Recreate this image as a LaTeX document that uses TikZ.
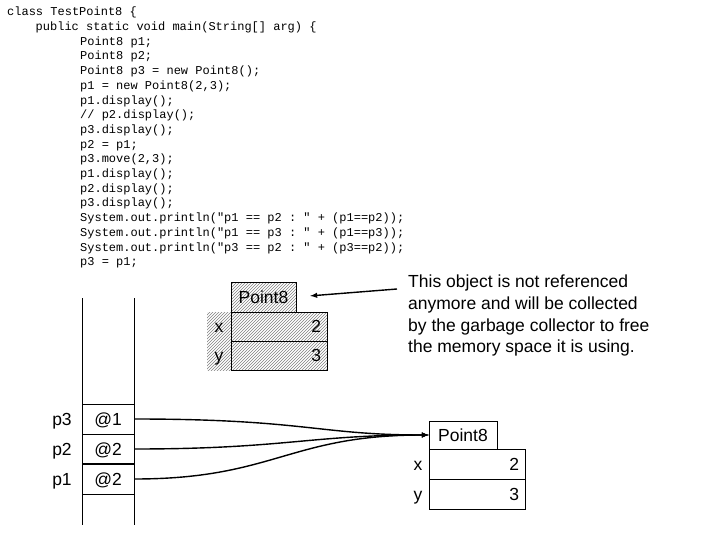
\documentclass[tikz,border=0pt]{standalone}
\usepackage{fontspec}
\setmainfont{Liberation Sans}
\setmonofont{Liberation Mono}
\usetikzlibrary{patterns}

\begin{document}
\begin{tikzpicture}[x=1pt,y=-1pt,>=latex,
	txt/.style={font=\fontsize{17.5}{21.7}\selectfont, text height=12pt, text depth=0pt, inner sep=0pt},
	cell/.style={txt, draw, minimum width=52pt, minimum height=30pt},
	head/.style={txt, draw},
	field/.style={txt, draw, minimum width=96pt, text width=84pt, align=right, inner xsep=6pt},
	hatched/.style={pattern=north east lines, pattern color=gray},
	ref/.style={->, line width=1.4pt}]
	\useasboundingbox (0,0) rectangle (720,540);

	% source listing
	\node (code) at (7,7) [anchor=north west, inner sep=0pt, align=left, font=\ttfamily\fontsize{12}{14.7}\selectfont] {%
		class TestPoint8 \{\\
		\hspace*{28.5pt}public static void main(String[] arg) \{\\
		\hspace*{73pt}Point8 p1;\\
		\hspace*{73pt}Point8 p2;\\
		\hspace*{73pt}Point8 p3 = new Point8();\\
		\hspace*{73pt}p1 = new Point8(2,3);\\
		\hspace*{73pt}p1.display();\\
		\hspace*{73pt}// p2.display();\\
		\hspace*{73pt}p3.display();\\
		\hspace*{73pt}p2 = p1;\\
		\hspace*{73pt}p3.move(2,3);\\
		\hspace*{73pt}p1.display();\\
		\hspace*{73pt}p2.display();\\
		\hspace*{73pt}p3.display();\\
		\hspace*{73pt}System.out.println("p1 == p2 : " + (p1==p2));\\
		\hspace*{73pt}System.out.println("p1 == p3 : " + (p1==p3));\\
		\hspace*{73pt}System.out.println("p3 == p2 : " + (p3==p2));\\
		\hspace*{73pt}p3 = p1;};

	% stack
	\draw (82,298) -- (82,525);
	\draw (134,298) -- (134,525);
	\node (s3) at (108,419)	[cell]	{@1};
	\node (s2) at (108,449)	[cell]	{@2};
	\node (s1) at (108,479)	[cell]	{@2};
	\draw[line width=2pt] (s2.south west) -- (s2.south east);
	\node (n3) at (62,419)	[txt]	{p3};
	\node (n2) at (62,449)	[txt]	{p2};
	\node (n1) at (62,479)	[txt]	{p1};

	% unreferenced object
	\fill[hatched] (207,312) rectangle (231,370);
	\node (hdr1) at (263.5,297)	[head, hatched, minimum width=65pt, minimum height=30pt]	{Point8};
	\node (fx1) at (279,326.5)	[field, hatched, minimum height=29pt]	{2};
	\node (fy1) at (279,355.5)	[field, hatched, minimum height=29pt]	{3};
	\node (lx1) at (219,326.5)	[txt]	{x};
	\node (ly1) at (219,355.5)	[txt]	{y};

	% live object
	\node (hdr2) at (463,435)	[head, minimum width=68pt, minimum height=28pt]	{Point8};
	\node (fx2) at (477,464)	[field, minimum height=30pt]	{2};
	\node (fy2) at (477,494)	[field, minimum height=30pt]	{3};
	\node (lx2) at (418,464)	[txt]	{x};
	\node (ly2) at (418,494)	[txt]	{y};

	% references
	\draw[ref] (s3.east) .. controls +(170,0) and +(-110,0) .. (hdr2.west);
	\draw[ref] (s2.east) .. controls +(150,0) and +(-120,0) .. (hdr2.west);
	\draw[ref] (s1.east) .. controls +(140,0) and +(-140,0) .. (hdr2.west);

	% note
	\node (note) at (408,275)	[anchor=north west, inner sep=0pt, align=left, font=\fontsize{17.5}{21.7}\selectfont]
		{This object is not referenced\\anymore and will be collected\\by the garbage collector to free\\the memory space it is using.};
	\coordinate (tail) at (397,289);
	\draw[->, line width=1.4pt, shorten >=14pt] (tail) -- (hdr1.east);
\end{tikzpicture}
\end{document}
